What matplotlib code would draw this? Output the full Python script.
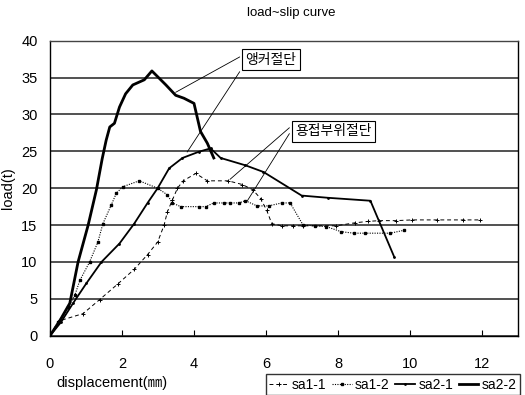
import matplotlib
matplotlib.use("Agg")
import matplotlib.pyplot as plt

plt.rcParams['font.family'] = ['Liberation Sans Narrow', 'Liberation Sans', 'Noto Sans CJK KR', 'DejaVu Sans']

# ---- data ----
title = "load~slip curve"
x_label = "displacement(㎜)"
y_label = "load(t)"
series_names = ["sa1-1", "sa1-2", "sa2-1", "sa2-2"]

sa1_1_x = [0, 0.25, 0.92, 1.38, 1.88, 2.34, 2.71, 2.99, 3.17, 3.26, 3.4, 3.54, 3.7, 4.05, 4.37,
           4.95, 5.34, 5.63, 5.85, 6.02, 6.16, 6.44, 6.76, 7.03, 7.94, 8.46, 8.83, 9.15, 9.6,
           10.05, 10.76, 11.47, 11.95]
sa1_1_y = [0, 2.0, 3.0, 4.9, 7.0, 9.0, 11.0, 12.7, 15.0, 16.8, 18.4, 20.0, 21.0, 22.0, 21.0,
           21.0, 20.5, 19.8, 18.6, 17.0, 15.2, 14.9, 14.9, 14.9, 14.9, 15.3, 15.5, 15.6, 15.6,
           15.7, 15.7, 15.7, 15.7]

sa1_2_x = [0, 0.23, 0.51, 0.69, 0.83, 1.1, 1.33, 1.47, 1.7, 1.84, 2.02, 2.48, 2.99, 3.26, 3.4,
           3.63, 4.14, 4.32, 4.55, 4.83, 5.01, 5.24, 5.43, 5.75, 6.07, 6.44, 6.67, 7.03, 7.36,
           7.67, 8.09, 8.44, 8.76, 9.45, 9.84]
sa1_2_y = [0, 1.9, 3.9, 5.5, 7.5, 10.0, 12.7, 15.2, 17.7, 19.3, 20.2, 21.0, 20.0, 19.1, 18.0,
           17.5, 17.5, 17.5, 18.0, 18.0, 18.0, 18.0, 18.3, 17.6, 17.6, 18.0, 18.0, 15.0, 14.9,
           14.8, 14.1, 13.9, 13.9, 13.9, 14.3]

sa2_1_x = [0, 0.3, 0.64, 1.01, 1.43, 1.93, 2.34, 2.71, 2.99, 3.31, 3.68, 4.14, 4.46, 4.74,
           5.43, 5.93, 6.99, 7.72, 8.9, 9.56]
sa2_1_y = [0, 1.8, 4.4, 7.1, 10.0, 12.5, 15.2, 18.0, 20.0, 22.7, 24.1, 24.95, 25.4, 24.1,
           23.1, 22.2, 19.0, 18.7, 18.3, 10.7]

sa2_2_x = [0, 0.28, 0.55, 0.78, 1.06, 1.29, 1.45, 1.56, 1.66, 1.79, 1.93, 2.1, 2.3, 2.62,
           2.83, 3.22, 3.49, 3.72, 4.0, 4.18, 4.37, 4.55]
sa2_2_y = [0, 2.1, 4.4, 10.0, 15.0, 19.8, 24.0, 26.5, 28.3, 28.8, 31.0, 32.8, 34.0, 34.7,
           35.9, 34.0, 32.6, 32.2, 31.5, 27.7, 26.1, 24.1]

x_ticks = [0, 2, 4, 6, 8, 10, 12]
y_ticks = [0, 5, 10, 15, 20, 25, 30, 35, 40]

# annotations: text, text position, line start points, line end points
anno1_text = "앵커절단"
anno1_pos = (6.14, 37.4)
anno1_starts = [(5.27, 37.8), (5.27, 35.8)]
anno1_ends = [(3.49, 33.0), (3.81, 24.9)]

anno2_text = "용접부위절단"
anno2_pos = (7.88, 27.75)
anno2_starts = [(6.65, 28.2), (6.65, 27.4)]
anno2_ends = [(5.0, 21.2), (5.47, 18.2)]

# ---- figure ----
fig = plt.figure(figsize=(5.25, 3.95), dpi=100)
ax = fig.add_axes([50/525, 1-335.7/395, 468/525, 295/395])

ax.plot(sa1_1_x, sa1_1_y, color='black', lw=0.7, linestyle=(0, (4, 3)),
        marker='+', ms=3, mew=0.7, label=series_names[0])
ax.plot(sa1_2_x, sa1_2_y, color='black', lw=0.8, linestyle=(0, (1, 1.2)),
        marker='s', ms=1.7, label=series_names[1])
ax.plot(sa2_1_x, sa2_1_y, color='black', lw=1.3, linestyle='-',
        marker='.', ms=2, label=series_names[2])
ax.plot(sa2_2_x, sa2_2_y, color='black', lw=2.0, linestyle='-',
        label=series_names[3])

ax.set_xlim(0, 13)
ax.set_ylim(0, 40)
ax.set_xticks(x_ticks)
ax.set_yticks(y_ticks)
ax.yaxis.grid(True, color='#222222', lw=1.1)
ax.set_axisbelow(True)
ax.tick_params(axis='x', direction='in', length=4, width=0.8, pad=15, labelsize=10.5)
ax.tick_params(axis='y', length=0, pad=9, labelsize=10.5)
for s in ['left', 'bottom', 'right']:
    ax.spines[s].set_color('black')
    ax.spines[s].set_linewidth(1.0)
ax.spines['top'].set_color('#444444')
ax.spines['top'].set_linewidth(1.0)

ax.set_xlabel(x_label, fontsize=10.5)
ax.xaxis.set_label_coords((112-50)/468, (335.7-376)/295)
ax.set_ylabel(y_label, fontsize=10.5)
ax.yaxis.set_label_coords((15-50)/468, 0.5)

fig.text(291/525, 1-13/395, title, ha='center', va='center', fontsize=9.5)

box = dict(boxstyle='square,pad=0.25', fc='white', ec='black', lw=0.8)
for (s, e) in zip(anno1_starts, anno1_ends):
    ax.annotate('', xy=e, xytext=s, arrowprops=dict(arrowstyle='-', lw=0.6, color='black',
                                                    shrinkA=0, shrinkB=0))
for (s, e) in zip(anno2_starts, anno2_ends):
    ax.annotate('', xy=e, xytext=s, arrowprops=dict(arrowstyle='-', lw=0.6, color='black',
                                                    shrinkA=0, shrinkB=0))
ax.text(anno1_pos[0], anno1_pos[1], anno1_text, ha='center', va='center', fontsize=10,
        bbox=box, family=['Noto Sans CJK KR', 'DejaVu Sans'])
ax.text(anno2_pos[0], anno2_pos[1], anno2_text, ha='center', va='center', fontsize=10,
        bbox=box, family=['Noto Sans CJK KR', 'DejaVu Sans'])

leg = fig.legend(loc='lower right', bbox_to_anchor=(520/525, 0.0), ncol=4, fontsize=10,
                 frameon=True, fancybox=False, edgecolor='black', handlelength=1.4,
                 handletextpad=0.25, columnspacing=0.4, borderpad=0.25, borderaxespad=0)
leg.get_frame().set_linewidth(1.0)

fig.savefig("out.png", dpi=100)
